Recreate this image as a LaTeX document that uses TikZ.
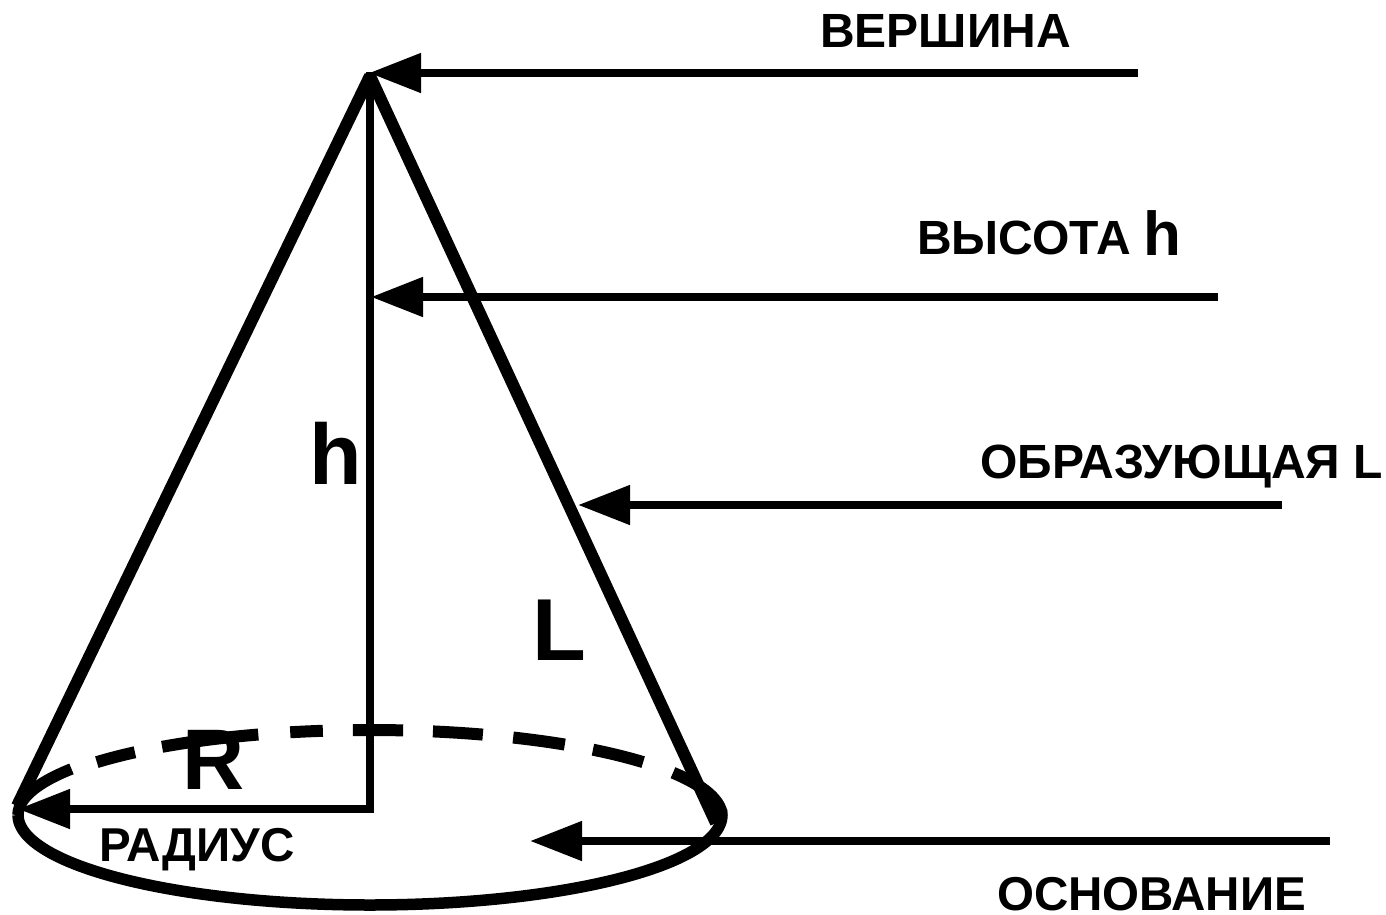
\documentclass[tikz,border=0pt]{standalone}
\usepackage{fontspec}
\setmainfont{Liberation Sans}
\usetikzlibrary{arrows.meta}
\tikzset{
  lbl/.style={inner sep=0pt,anchor=base west,font=\bfseries\fontsize{#1}{#1}\selectfont},
  pointer/.style={line width=8pt,{Triangle[length=52pt,width=38pt]}-},
  coneline/.style={line width=12pt,line join=bevel},
  dashpiece/.style={line width=12pt},
}
\begin{document}
\begin{tikzpicture}[x=1pt,y=-1pt]
\useasboundingbox (0,0) rectangle (1386,914);
\coordinate (apex) at (370,76);
\coordinate (baseL) at (17,806);
\coordinate (baseR) at (716,823);
\coordinate (foot) at (370,809);
% dashed back of base
\foreach \a/\b in {131.9/140.9,108.5/126.2,97.7/103.1,84.6/92.8,71.3/79.7,56.4/66,39.1/50.7,3/30.6}{
  \draw[dashpiece] plot[domain=\a:\b,samples=14,smooth] ({370+352*cos(\x)},{817-87*sin(\x)});
}
% solid front of base
\draw[line width=11.5pt] plot[domain=180:363,samples=60,smooth] ({370+352*cos(\x)},{815-90*sin(\x)});
\draw[line width=11.5pt] plot[domain=148:180,samples=14,smooth] ({370+352*cos(\x)},{815-87*sin(\x)});
% cone sides and height
\draw[coneline] (baseL) -- (apex) -- (baseR);
\draw[line width=8pt,line cap=rect] (apex) -- (foot);
% labels on the cone
\node[lbl=86] (hIn) at (309,484) {h};
\node[lbl=88] (LIn) at (532,660) {L};
\node[lbl=86] (RIn) at (182,789) {R};
% pointers
\coordinate (p1) at (1138,73); \coordinate (t1) at (369,73);
\coordinate (p2) at (1218,297); \coordinate (t2) at (371,297);
\coordinate (p3) at (1282,505); \coordinate (t3) at (578,505);
\coordinate (p4) at (1330,841); \coordinate (t4) at (530,841);
\coordinate (t5) at (18,809);
\draw[pointer] (t1) -- (p1);
\draw[pointer] (t2) -- (p2);
\draw[pointer] (t3) -- (p3);
\draw[pointer] (t4) -- (p4);
\draw[pointer] (t5) -- (foot);
% captions
\node[lbl=48] (cVer) at (820,47) {ВЕРШИНА};
\node[lbl=48] (cVys) at (917,254) {ВЫСОТА};
\node[lbl=62] (cH) at (1143,255) {h};
\node[lbl=48] (cObr) at (980,478) {ОБРАЗУЮЩАЯ L};
\node[lbl=47.5] (cRad) at (99,861) {РАДИУС};
\node[lbl=47.5] (cOsn) at (997,910) {ОСНОВАНИЕ};
\end{tikzpicture}
\end{document}
